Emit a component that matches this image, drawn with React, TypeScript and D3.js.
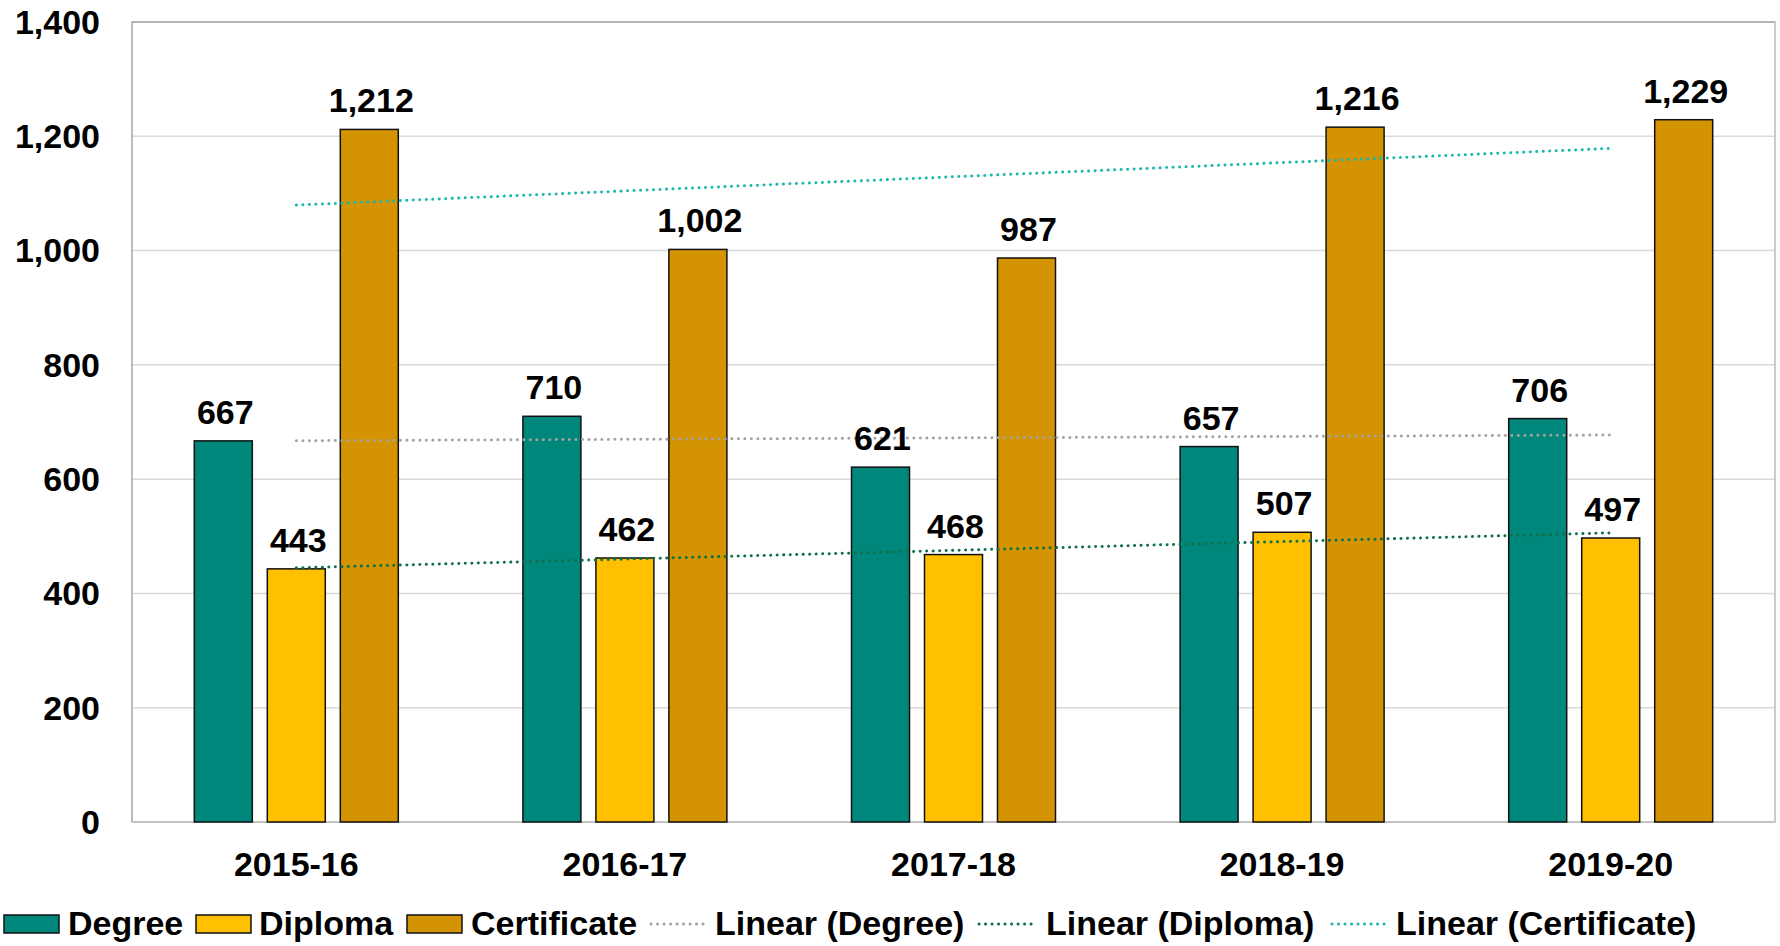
import React from "react";
import * as d3 from "d3";

const categories = ["2015-16", "2016-17", "2017-18", "2018-19", "2019-20"];
const seriesNames = ["Degree", "Diploma", "Certificate"];
const degreeValues = [667, 710, 621, 657, 706];
const diplomaValues = [443, 462, 468, 507, 497];
const certificateValues = [1212, 1002, 987, 1216, 1229];
const yTicks = [0, 200, 400, 600, 800, 1000, 1200, 1400];

const barColors = ["#00877B", "#FFC000", "#D49300"];
const trendColors = ["#A3A3A3", "#10704A", "#1DB8AC"];
const trendLabels = ["Linear (Degree)", "Linear (Diploma)", "Linear (Certificate)"];

const W = 1780;
const H = 946;
const plot = { left: 132, right: 1775, top: 22, bottom: 822 };
const FONT = "'Liberation Sans', Arial, sans-serif";

function linearFit(vals: number[]) {
  const xs = vals.map((_, i) => i + 1);
  const mx = d3.mean(xs) as number;
  const my = d3.mean(vals) as number;
  let num = 0, den = 0;
  xs.forEach((x, i) => { num += (x - mx) * (vals[i] - my); den += (x - mx) * (x - mx); });
  const slope = num / den;
  return (x: number) => my + slope * (x - mx);
}

export default function App() {
  const allSeries = [degreeValues, diplomaValues, certificateValues];
  const x0 = d3.scaleBand<string>().domain(categories).range([plot.left, plot.right]).padding(0);
  const bw = x0.bandwidth();
  const x1 = d3.scaleBand<string>().domain(seriesNames)
    .range([bw * 0.1896, bw * 0.8104]).paddingInner(0.2055).paddingOuter(0);
  const y = d3.scaleLinear().domain([0, 1400]).range([plot.bottom, plot.top]);

  const fmt = d3.format(",");

  const trendLines = allSeries.map((vals) => {
    const f = linearFit(vals);
    const pts: [number, number][] = vals.map((_, i) => [
      (x0(categories[i]) as number) + bw / 2,
      y(f(i + 1)),
    ]);
    return d3.line()(pts) as string;
  });

  const legendY = 924;
  const legendItems = [
    { type: "box", color: barColors[0], label: seriesNames[0], sx: 4, tx: 68 },
    { type: "box", color: barColors[1], label: seriesNames[1], sx: 196, tx: 259 },
    { type: "box", color: barColors[2], label: seriesNames[2], sx: 407, tx: 471 },
    { type: "line", color: trendColors[0], label: trendLabels[0], sx: 651, tx: 715 },
    { type: "line", color: trendColors[1], label: trendLabels[1], sx: 979, tx: 1046 },
    { type: "line", color: trendColors[2], label: trendLabels[2], sx: 1332, tx: 1396 },
  ];

  const dash = "0.1 6.4";

  return (
    <svg width={W} height={H} style={{ position: "absolute", left: 0, top: 0, display: "block", background: "#fff" }}
      fontFamily={FONT} fontWeight="bold">
      <rect x={0} y={0} width={W} height={H} fill="#fff" />
      {yTicks.map((t) => (
        <line key={t} x1={plot.left} x2={plot.right} y1={y(t)} y2={y(t)} stroke="#D9D9D9" strokeWidth={1.5} />
      ))}
      <rect x={plot.left} y={plot.top} width={plot.right - plot.left} height={plot.bottom - plot.top}
        fill="none" stroke="#A6A6A6" strokeWidth={1.5} />
      <line x1={plot.right} x2={plot.right} y1={plot.top} y2={plot.bottom} stroke="#D0D0D0" strokeWidth={1.5} />
      <line x1={plot.left} x2={plot.right} y1={plot.bottom} y2={plot.bottom} stroke="#C8C8C8" strokeWidth={1.5} />
      {yTicks.map((t) => (
        <text key={t} x={100} y={y(t)} dy="0.35em" textAnchor="end" fontSize={34} fill="#000">{fmt(t)}</text>
      ))}
      {categories.map((c) => (
        <text key={c} x={(x0(c) as number) + bw / 2} y={876} textAnchor="middle" fontSize={34} fill="#000">{c}</text>
      ))}
      {categories.map((c, ci) => (
        <g key={c} transform={`translate(${x0(c)},0)`}>
          {seriesNames.map((s, si) => (
            <rect key={s} x={x1(s)} y={y(allSeries[si][ci])} width={x1.bandwidth()}
              height={y(0) - y(allSeries[si][ci])} fill={barColors[si]} stroke="#111" strokeWidth={1.5} />
          ))}
        </g>
      ))}
      {trendLines.map((d, i) => (
        <path key={i} d={d} fill="none" stroke={trendColors[i]} strokeWidth={3}
          strokeDasharray={dash} strokeLinecap="round" />
      ))}
      {categories.map((c, ci) => (
        <g key={c} transform={`translate(${x0(c)},0)`}>
          {seriesNames.map((s, si) => (
            <text key={s} x={(x1(s) as number) + x1.bandwidth() / 2 + 2} y={y(allSeries[si][ci]) - 17}
              textAnchor="middle" fontSize={34} fill="#000">{fmt(allSeries[si][ci])}</text>
          ))}
        </g>
      ))}
      {legendItems.map((it, i) => (
        <g key={i}>
          {it.type === "box" ? (
            <rect x={it.sx} y={legendY - 9} width={55} height={18} fill={it.color} stroke="#111" strokeWidth={1.5} />
          ) : (
            <line x1={it.sx} x2={it.sx + 55} y1={legendY} y2={legendY} stroke={it.color} strokeWidth={3}
              strokeDasharray={dash} strokeLinecap="round" />
          )}
          <text x={it.tx} y={935} fontSize={34} fill="#000">{it.label}</text>
        </g>
      ))}
    </svg>
  );
}
